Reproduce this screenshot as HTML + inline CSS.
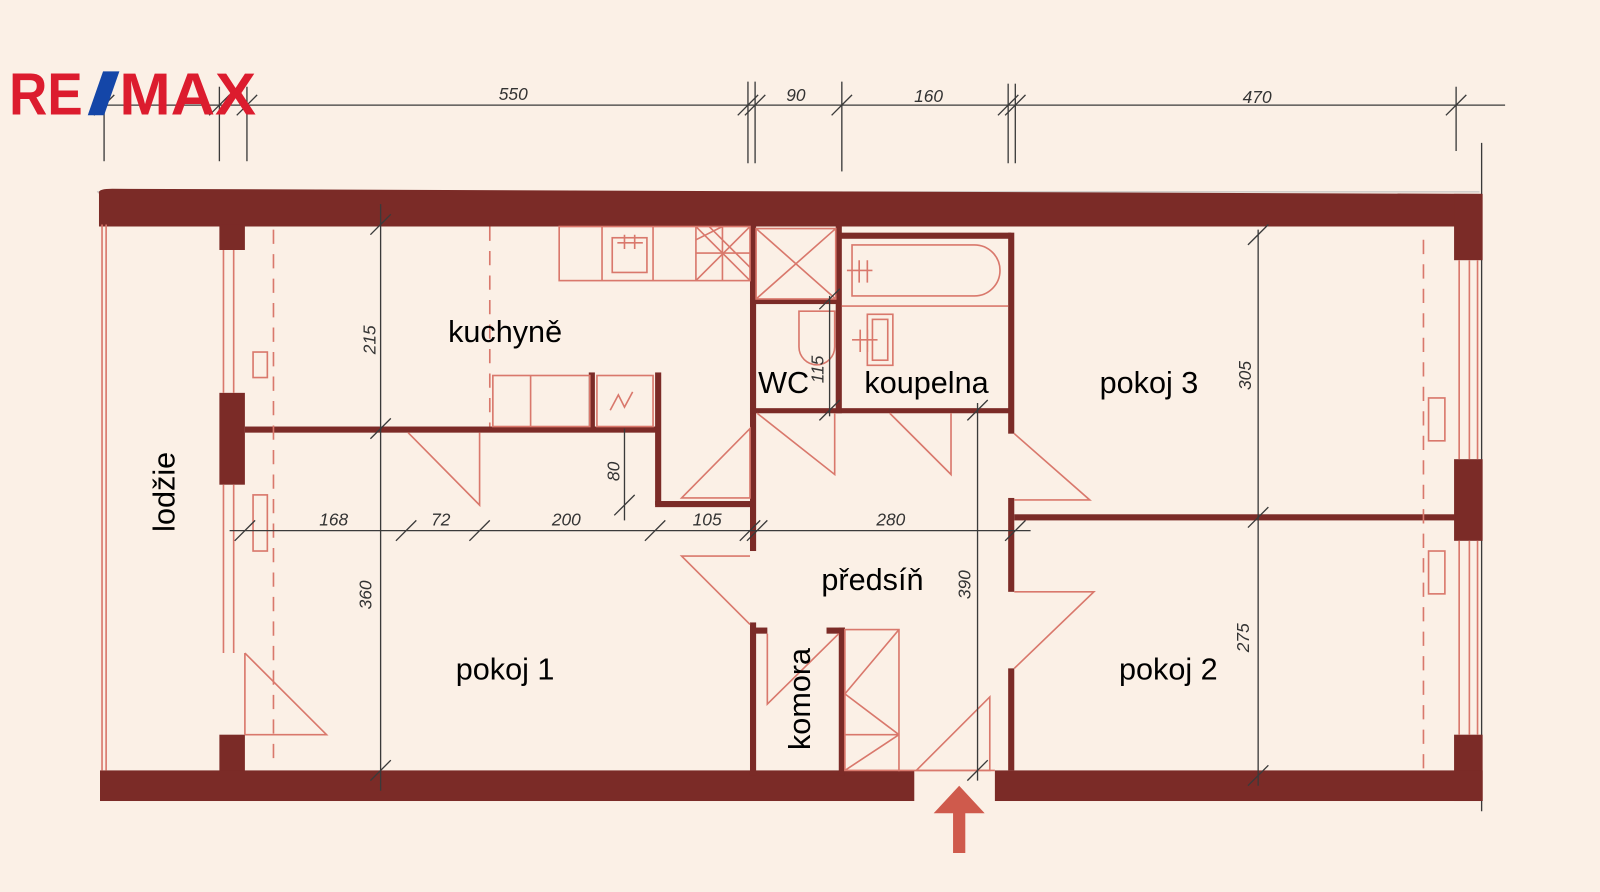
<!DOCTYPE html>
<html><head><meta charset="utf-8"><style>
html,body{margin:0;padding:0;background:#fbf0e6;}
svg{display:block;}
.w{fill:#7b2b27;}
.t{stroke:#d9786c;stroke-width:1.6;fill:none;}
.d{stroke:#3a3a3a;stroke-width:1.3;fill:none;}
.dt{font-family:"Liberation Sans",sans-serif;font-style:italic;font-size:17px;fill:#333;}
.lb{font-family:"Liberation Sans","DejaVu Sans",sans-serif;font-size:30px;fill:#000;}
</style></head><body>
<svg width="1600" height="892" viewBox="0 0 1600 892" xmlns="http://www.w3.org/2000/svg">
<rect width="1600" height="892" fill="#fbf0e6"/>
<g transform="scale(1.0204)">
<!-- dimension line top -->
<g class="d">
<line x1="100" y1="103" x2="1475" y2="103"/>
<line x1="102" y1="85" x2="102" y2="158"/>
<line x1="215" y1="85" x2="215" y2="158"/>
<line x1="242" y1="85" x2="242" y2="158"/>
<line x1="733" y1="80" x2="733" y2="160"/>
<line x1="740" y1="80" x2="740" y2="160"/>
<line x1="825" y1="80" x2="825" y2="168"/>
<line x1="988" y1="82" x2="988" y2="160"/>
<line x1="995" y1="82" x2="995" y2="160"/>
<line x1="1427" y1="85" x2="1427" y2="148"/>
<line x1="1452" y1="140" x2="1452" y2="795"/>
<path d="M92 113l20-20M205 113l20-20M232 113l20-20M723 113l20-20M730 113l20-20M815 113l20-20M978 113l20-20M985 113l20-20M1417 113l20-20"/>
</g>
<text class="dt" x="503" y="98" text-anchor="middle">550</text>
<text class="dt" x="780" y="99" text-anchor="middle">90</text>
<text class="dt" x="910" y="100" text-anchor="middle">160</text>
<text class="dt" x="1232" y="101" text-anchor="middle">470</text>
<line x1="95" y1="188" x2="1450" y2="188" stroke="#bbb" stroke-width="1"/>
<!-- walls -->
<g class="w">
<path d="M97 190 Q95 185 110 185 L1452 190 L1452 222 L97 222 Z"/>
<rect x="1425" y="190" width="28" height="65"/>
<rect x="215" y="220" width="25" height="25"/>
<rect x="215" y="385" width="25" height="90"/>
<rect x="215" y="720" width="25" height="40"/>
<rect x="1425" y="450" width="28" height="80"/>
<rect x="1425" y="720" width="28" height="65"/>
<rect x="98" y="755" width="798" height="30"/>
<rect x="975" y="755" width="478" height="30"/>
<rect x="240" y="418" width="405" height="6"/>
<rect x="642" y="365" width="6" height="130"/>
<rect x="642" y="491" width="96" height="6"/>
<rect x="577" y="365" width="6" height="55"/>
<rect x="735" y="220" width="6" height="320"/>
<rect x="735" y="610" width="6" height="150"/>
<rect x="735" y="293" width="87" height="5"/>
<rect x="735" y="400" width="256" height="5"/>
<rect x="819" y="220" width="6" height="185"/>
<rect x="988" y="228" width="6" height="197"/>
<rect x="988" y="488" width="6" height="92"/>
<rect x="988" y="655" width="6" height="100"/>
<rect x="994" y="504" width="432" height="6"/>
<rect x="823" y="228" width="168" height="6"/>
<rect x="737" y="615" width="15" height="6"/>
<rect x="810" y="615" width="18" height="6"/>
<rect x="822" y="615" width="6" height="145"/>
</g>
<!-- thin lines -->
<g class="t">
<line x1="100" y1="220" x2="100" y2="755"/>
<line x1="104" y1="220" x2="104" y2="755"/>
<line x1="219" y1="245" x2="219" y2="385"/><line x1="229" y1="245" x2="229" y2="385"/>
<line x1="219" y1="475" x2="219" y2="640"/><line x1="229" y1="475" x2="229" y2="640"/>
<line x1="268" y1="225" x2="268" y2="750" stroke-dasharray="14 10"/>
<line x1="480" y1="222" x2="480" y2="418" stroke-dasharray="14 10"/>
<line x1="1395" y1="235" x2="1395" y2="755" stroke-dasharray="14 10"/>
<line x1="1430" y1="255" x2="1430" y2="450"/><line x1="1440" y1="255" x2="1440" y2="450"/><line x1="1448" y1="255" x2="1448" y2="450"/>
<line x1="1430" y1="530" x2="1430" y2="720"/><line x1="1440" y1="530" x2="1440" y2="720"/><line x1="1448" y1="530" x2="1448" y2="720"/>
<rect x="248" y="345" width="14" height="25"/><rect x="248" y="485" width="14" height="55"/>
<rect x="1400" y="390" width="16" height="42"/><rect x="1400" y="540" width="16" height="42"/>
<path d="M240 640 L240 720 M240 640 L320 720 L240 720"/>
<rect x="548" y="222" width="187" height="53"/>
<line x1="590" y1="222" x2="590" y2="275"/><line x1="640" y1="222" x2="640" y2="275"/><line x1="682" y1="222" x2="682" y2="275"/>
<rect x="600" y="233" width="34" height="34"/><path d="M605 238h25M612 230v14M622 230v14"/>
<path d="M682 222L735 275M735 222L682 275M708 222v53M682 248h53M682 235L708 222M695 222L735 262"/>
<rect x="483" y="368" width="95" height="50"/><line x1="520" y1="368" x2="520" y2="418"/>
<rect x="585" y="368" width="55" height="50"/><path d="M598 402l8-15 6 12 8-15"/>
<rect x="741" y="224" width="78" height="69"/><path d="M741 224L819 293M819 224L741 293"/>
<path d="M835 240 H955 A25 25 0 0 1 955 290 H835 Z"/><line x1="825" y1="300" x2="988" y2="300"/>
<path d="M830 265h25M842 255v22M850 255v22"/>
<rect x="850" y="308" width="25" height="50"/><rect x="855" y="313" width="15" height="40"/><path d="M835 333h25M843 323v22M850 323v22"/>
<path d="M783 305 H818 V340 A17 17 0 0 1 783 340 Z"/>
<path d="M400 424 L470 495 L470 424"/>
<path d="M742 405 L818 465 L818 405"/>
<path d="M872 405 L932 465 L932 405"/>
<path d="M735 420 L735 488 L668 488 Z"/>
<path d="M735 545 L668 545 L735 612"/>
<path d="M994 425 L1068 490 L994 490"/>
<path d="M994 580 L1072 580 L994 655"/>
<path d="M752 621 L752 690 L822 621"/>
<rect x="828" y="617" width="53" height="138"/><path d="M828 680L881 617M828 680L881 720M828 720h53M828 755L881 720"/>
<path d="M898 755 L970 683 L970 755 Z"/>
<line x1="880" y1="755" x2="975" y2="755"/>
</g>
<g class="d">
<line x1="225" y1="520" x2="1010" y2="520"/>
<line x1="373" y1="200" x2="373" y2="775"/>
<line x1="1233" y1="225" x2="1233" y2="770"/>
<line x1="958" y1="395" x2="958" y2="765"/>
<line x1="612" y1="420" x2="612" y2="510"/>
<line x1="813" y1="290" x2="813" y2="408"/>
<path d="M230 530l20-20M388 530l20-20M460 530l20-20M632 530l20-20M725 530l20-20M732 530l20-20M985 530l20-20M363 230l20-20M363 430l20-20M363 765l20-20M1223 240l20-20M1223 517l20-20M1223 770l20-20M948 412l20-20M948 765l20-20M602 505l20-20M803 303l20-20M803 412l20-20"/>
</g>
<text class="dt" x="327" y="515" text-anchor="middle">168</text>
<text class="dt" x="432" y="515" text-anchor="middle">72</text>
<text class="dt" x="555" y="515" text-anchor="middle">200</text>
<text class="dt" x="693" y="515" text-anchor="middle">105</text>
<text class="dt" x="873" y="515" text-anchor="middle">280</text>
<text class="dt" transform="translate(368,333) rotate(-90)" text-anchor="middle">215</text>
<text class="dt" transform="translate(364,583) rotate(-90)" text-anchor="middle">360</text>
<text class="dt" transform="translate(1226,368) rotate(-90)" text-anchor="middle">305</text>
<text class="dt" transform="translate(1224,625) rotate(-90)" text-anchor="middle">275</text>
<text class="dt" transform="translate(951,573) rotate(-90)" text-anchor="middle">390</text>
<text class="dt" transform="translate(607,462) rotate(-90)" text-anchor="middle">80</text>
<text class="dt" transform="translate(807,362) rotate(-90)" text-anchor="middle" font-size="14">115</text>
<text class="lb" x="495" y="335" text-anchor="middle">kuchyně</text>
<text class="lb" x="768" y="385" text-anchor="middle">WC</text>
<text class="lb" x="908" y="385" text-anchor="middle">koupelna</text>
<text class="lb" x="1126" y="385" text-anchor="middle">pokoj 3</text>
<text class="lb" x="855" y="578" text-anchor="middle">předsíň</text>
<text class="lb" x="495" y="666" text-anchor="middle">pokoj 1</text>
<text class="lb" x="1145" y="666" text-anchor="middle">pokoj 2</text>
<text class="lb" transform="translate(171,482) rotate(-90)" text-anchor="middle">lodžie</text>
<text class="lb" transform="translate(794,685) rotate(-90)" text-anchor="middle">komora</text>
<path d="M940 770 L965 797 L946 797 L946 836 L934 836 L934 797 L915 797 Z" fill="#cf5a4c"/>
<text x="9" y="112" font-family="Liberation Sans,sans-serif" font-weight="bold" font-size="58" fill="#dc1c2e" textLength="72" lengthAdjust="spacingAndGlyphs">RE</text>
<polygon points="101,70 117,70 102,113 86,113" fill="#1446a8"/>
<text x="117" y="112" font-family="Liberation Sans,sans-serif" font-weight="bold" font-size="58" fill="#dc1c2e" textLength="134" lengthAdjust="spacingAndGlyphs">MAX</text>
</g>
</svg>
</body></html>
